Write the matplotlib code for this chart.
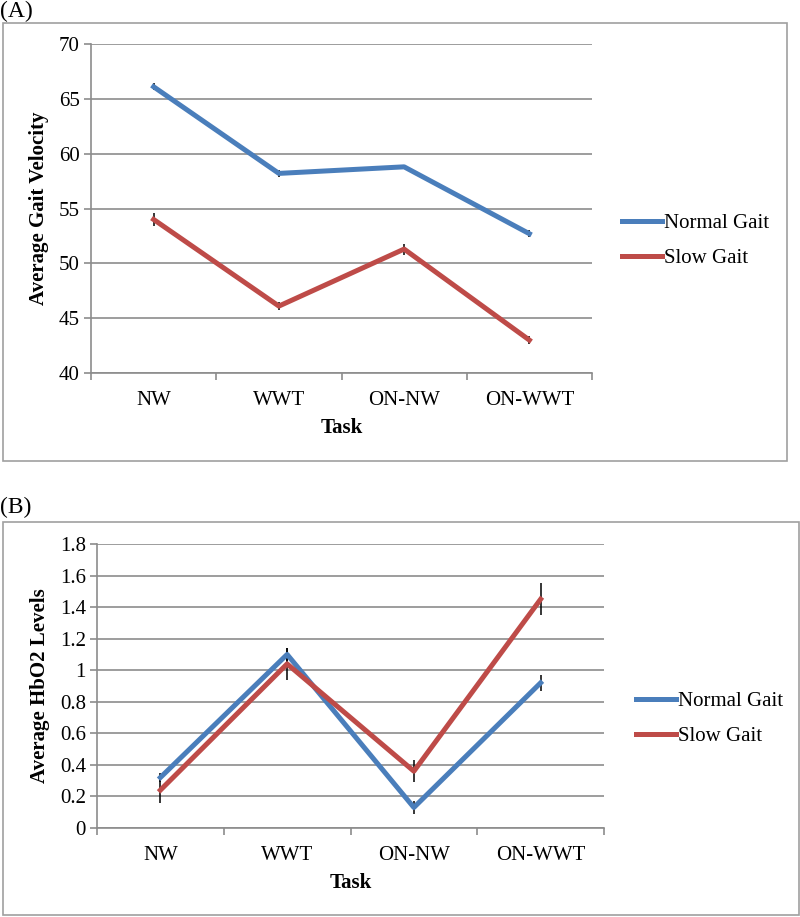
import numpy as np
import matplotlib
matplotlib.use("Agg")
import matplotlib.pyplot as plt
from matplotlib.patches import Rectangle
from matplotlib.ticker import FormatStrFormatter

plt.rcParams['font.family'] = ['Liberation Serif', 'DejaVu Serif']

tasks = ["NW", "WWT", "ON-NW", "ON-WWT"]
series = ["Normal Gait", "Slow Gait"]

# panel A: average gait velocity
velocity_normal = [66.1, 58.2, 58.8, 52.7]
velocity_normal_err = [0.3, 0.3, 0.2, 0.3]
velocity_slow = [54.0, 46.1, 51.3, 43.0]
velocity_slow_err = [0.6, 0.4, 0.5, 0.4]

# panel B: average HbO2 levels
hbo2_normal = [0.32, 1.10, 0.13, 0.92]
hbo2_normal_err = [0.03, 0.04, 0.04, 0.05]
hbo2_slow = [0.24, 1.04, 0.36, 1.45]
hbo2_slow_err = [0.08, 0.10, 0.07, 0.10]

BLUE = "#4a7ebb"
RED = "#be4b48"
GRID = "#8c8c8c"
W, H = 800, 917
FS = 15


def px(x, y, w, h):
    # pixel box (top-left origin) -> figure fraction
    return [x / W, 1 - (y + h) / H, w / W, h / H]


def draw_panel(fig, box, frame, tag, tag_y, normal, nerr, slow, serr,
               ylim, step, ylabel, legend_xy):
    fig.patches.append(Rectangle((frame[0] / W, 1 - frame[3] / H),
                                 (frame[2] - frame[0]) / W,
                                 (frame[3] - frame[1]) / H,
                                 transform=fig.transFigure, fill=False,
                                 edgecolor="#a0a0a0", linewidth=1.2))
    fig.text(0 / W, 1 - tag_y / H, tag, fontsize=17, va="center", ha="left")

    ax = fig.add_axes(px(*box))
    x = np.arange(len(tasks)) + 0.5
    ax.errorbar(x, normal, yerr=nerr, color=BLUE, lw=3.6, ecolor="black",
                elinewidth=1.1, capsize=0, label=series[0], zorder=3)
    ax.errorbar(x, slow, yerr=serr, color=RED, lw=3.6, ecolor="black",
                elinewidth=1.1, capsize=0, label=series[1], zorder=3)

    ax.set_xlim(0, len(tasks))
    ax.set_ylim(*ylim)
    ax.set_yticks(np.arange(ylim[0], ylim[1] + step / 2, step))
    ax.yaxis.set_major_formatter(FormatStrFormatter("%g"))
    ax.set_xticks(np.arange(len(tasks) + 1))
    ax.set_xticklabels([])
    ax.set_xticks(x, minor=True)
    ax.set_xticklabels(tasks, minor=True)
    ax.tick_params(axis="x", which="major", length=5, color=GRID, width=1.2)
    ax.tick_params(axis="x", which="minor", length=0, pad=13, labelsize=FS)
    ax.tick_params(axis="y", length=5, color=GRID, width=1.2, labelsize=FS,
                   pad=3)
    ax.grid(axis="y", color=GRID, lw=1.2)
    ax.set_axisbelow(True)
    for s in ["top", "right"]:
        ax.spines[s].set_visible(False)
    for s in ["left", "bottom"]:
        ax.spines[s].set_color(GRID)
        ax.spines[s].set_linewidth(1.2)
    ax.set_xlabel("Task", fontsize=FS, fontweight="bold", labelpad=6)
    ax.set_ylabel(ylabel, fontsize=FS, fontweight="bold", labelpad=7)

    handles, labels = ax.get_legend_handles_labels()
    handles = [h[0] for h in handles]
    fig.legend(handles, labels, loc="center left",
               bbox_to_anchor=(legend_xy[0] / W, 1 - legend_xy[1] / H),
               frameon=False, fontsize=FS, handlelength=1.9,
               handletextpad=0.1, labelspacing=0.75, borderaxespad=0)
    return ax


fig = plt.figure(figsize=(8, 9.17), dpi=100)

draw_panel(fig, (91, 44, 501, 329), (3, 23, 787, 461), "(A)", 11,
           velocity_normal, velocity_normal_err,
           velocity_slow, velocity_slow_err,
           (40, 70), 5, "Average Gait Velocity", (614, 241))

draw_panel(fig, (97, 544, 507, 284), (3, 522, 799, 915), "(B)", 507,
           hbo2_normal, hbo2_normal_err, hbo2_slow, hbo2_slow_err,
           (0, 1.8), 0.2, "Average HbO2 Levels", (628, 719))

fig.savefig("out.png", dpi=100)
